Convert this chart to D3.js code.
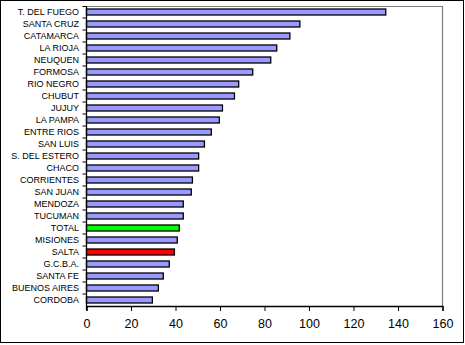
<!DOCTYPE html>
<html>
<head>
<meta charset="utf-8">
<script src="https://cdn.jsdelivr.net/npm/d3@7"></script>
<style>
  html, body { margin: 0; padding: 0; background: #fff; }
  svg { display: block; }
</style>
</head>
<body>
<svg id="chart" width="465" height="345"></svg>
<script>
// Provinces, top to bottom
const categories = [
  "T. DEL FUEGO", "SANTA CRUZ", "CATAMARCA", "LA RIOJA", "NEUQUEN",
  "FORMOSA", "RIO NEGRO", "CHUBUT", "JUJUY", "LA PAMPA",
  "ENTRE RIOS", "SAN LUIS", "S. DEL ESTERO", "CHACO", "CORRIENTES ",
  "SAN JUAN", "MENDOZA", "TUCUMAN", "TOTAL", "MISIONES",
  "SALTA", "G.C.B.A.", "SANTA FE", "BUENOS AIRES", "CORDOBA"
];
const values = [
  134.5, 95.9, 91.4, 85.5, 82.8,
  74.7, 68.4, 66.5, 61.1, 59.7,
  56.1, 53.0, 50.4, 50.4, 47.6,
  47.1, 43.5, 43.5, 41.7, 40.8,
  39.5, 37.2, 34.5, 32.3, 29.6
];
const xTicks = [0, 20, 40, 60, 80, 100, 120, 140, 160];
const highlight = { "TOTAL": "#00ff00", "SALTA": "#ff0000" };

(function draw() {
  const svg = d3.select("#chart");
  const W = 465, H = 345;
  const mLeft = 86.5, mRight = 442.5, mTop = 6, mBottom = 306;

  // outer frame
  svg.append("rect")
    .attr("x", 0.5).attr("y", 0.5)
    .attr("width", W - 2).attr("height", H - 3)
    .attr("fill", "#fff").attr("stroke", "#000").attr("stroke-width", 1);

  const x = d3.scaleLinear().domain([0, 160]).range([mLeft, mRight]);
  const y = d3.scaleBand().domain(categories).range([mTop, mBottom]).paddingInner(0.5).paddingOuter(0.25);
  const yb = d3.scaleBand().domain(categories).range([mTop, mBottom]);

  // plot frame (grey top and right edges)
  svg.append("path")
    .attr("d", `M${mLeft},${mTop + 0.5}H${mRight}V${mBottom}`)
    .attr("fill", "none").attr("stroke", "#808080").attr("stroke-width", 1.2);

  // bars
  svg.append("g").selectAll("rect")
    .data(categories)
    .join("rect")
    .attr("x", x(0))
    .attr("y", d => y(d))
    .attr("width", (d, i) => x(values[i]) - x(0))
    .attr("height", y.bandwidth())
    .attr("fill", d => highlight[d] || "#9999ff")
    .attr("stroke", "#000")
    .attr("stroke-width", 1.3);

  // y axis: ticks on band boundaries, labels centred in bands
  const yAxisG = svg.append("g");
  yAxisG.append("line")
    .attr("x1", mLeft).attr("x2", mLeft)
    .attr("y1", mTop).attr("y2", mBottom + 4)
    .attr("stroke", "#000").attr("stroke-width", 1.3);
  yAxisG.selectAll("line.tk")
    .data(categories.slice(1))
    .join("line").attr("class", "tk")
    .attr("x1", mLeft - 4).attr("x2", mLeft)
    .attr("y1", d => yb(d)).attr("y2", d => yb(d))
    .attr("stroke", "#000").attr("stroke-width", 1);
  yAxisG.append("line")
    .attr("x1", mLeft - 4).attr("x2", mLeft)
    .attr("y1", mTop + 0.5).attr("y2", mTop + 0.5)
    .attr("stroke", "#000").attr("stroke-width", 1);
  yAxisG.selectAll("text")
    .data(categories)
    .join("text")
    .attr("x", 79)
    .attr("y", d => yb(d) + yb.bandwidth() / 2)
    .attr("dy", "0.35em")
    .attr("text-anchor", "end")
    .attr("font-family", "Liberation Sans, Arial, sans-serif")
    .attr("font-size", 9)
    .attr("fill", "#000")
    .text(d => d);

  // x axis
  const xAxis = d3.axisBottom(x).tickValues(xTicks).tickSize(5).tickPadding(8);
  const xg = svg.append("g").attr("transform", `translate(0,${mBottom})`).call(xAxis);
  xg.select(".domain").attr("stroke", "#000").attr("stroke-width", 1.3);
  xg.selectAll(".tick line").attr("stroke", "#000");
  xg.selectAll(".tick text")
    .attr("font-family", "Liberation Sans, Arial, sans-serif")
    .attr("font-size", 12.5)
    .attr("fill", "#000");
})();
</script>
</body>
</html>
